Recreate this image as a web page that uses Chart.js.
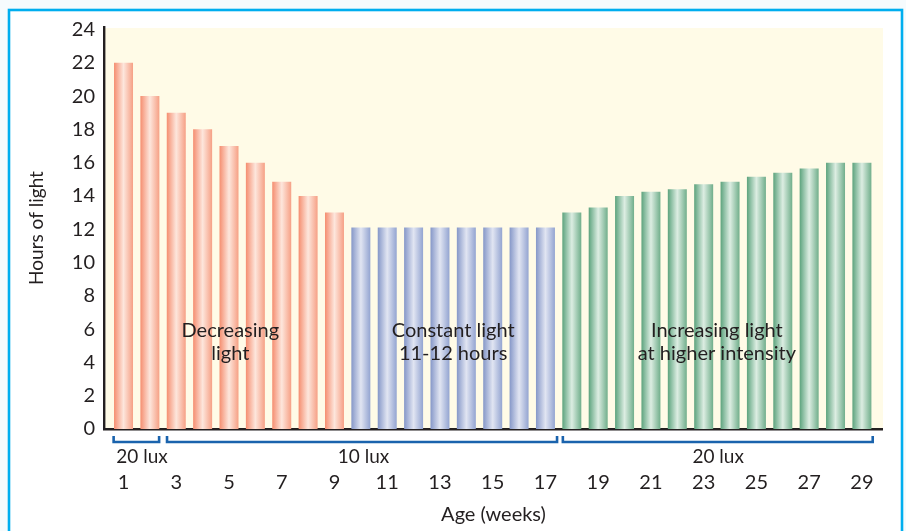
<!DOCTYPE html>
<html>
<head>
<meta charset="utf-8">
<script src="https://cdn.jsdelivr.net/npm/chart.js@4"></script>
<style>
  html, body { margin: 0; padding: 0; background: #f6fbfd; }
  #wrap { width: 906px; height: 531px; }
</style>
</head>
<body>
<div id="wrap"><canvas id="c" width="906" height="531"></canvas></div>
<script>
// Weekly hours of light through three lighting phases
const decreasingWeeks = [1, 2, 3, 4, 5, 6, 7, 8, 9];
const decreasingHours = [22, 20, 19, 18, 17, 16, 14.85, 14, 13];
const constantWeeks = [10, 11, 12, 13, 14, 15, 16, 17];
const constantHours = [12.1, 12.1, 12.1, 12.1, 12.1, 12.1, 12.1, 12.1];
const increasingWeeks = [18, 19, 20, 21, 22, 23, 24, 25, 26, 27, 28, 29];
const increasingHours = [13, 13.3, 14, 14.25, 14.4, 14.7, 14.85, 15.15, 15.4, 15.65, 16, 16];

const xTickWeeks = [1, 3, 5, 7, 9, 11, 13, 15, 17, 19, 21, 23, 25, 27, 29];
const yTickHours = [0, 2, 4, 6, 8, 10, 12, 14, 16, 18, 20, 22, 24];

// Phase captions, placed at a week and an hour value
const phaseLines = [["Decreasing", "light"], ["Constant light", "11-12 hours"], ["Increasing light", "at higher intensity"]];
const phaseAtWeek = [5.05, 13.5, 23.5];
const phaseAtHour = 5.2;

// Light intensity brackets under the axis
const luxLabels = ["20 lux", "10 lux", "20 lux"];
const luxFrom = [0.625, 2.65, 17.66];
const luxTo = [2.35, 17.44, 29.41];
const luxLabelAt = [1.7, 10.1, 23.55];

const INK = "#231f20";
const FONT = "Lato, 'Open Sans', sans-serif";
const BAR_SHARE = 0.72;

// Cylinder-like shading across each bar
function shaded(stops) {
  return (ctx) => {
    const chart = ctx.chart;
    if (!chart.chartArea || !ctx.raw) return stops[0];
    const xs = chart.scales.x;
    const cx = xs.getPixelForValue(ctx.raw.x);
    const half = (xs.getPixelForValue(1) - xs.getPixelForValue(0)) * BAR_SHARE / 2;
    const g = chart.ctx.createLinearGradient(cx - half, 0, cx + half, 0);
    g.addColorStop(0, stops[0]);
    g.addColorStop(0.5, stops[1]);
    g.addColorStop(1, stops[2]);
    return g;
  };
}

function points(weeks, hours) {
  return weeks.map((w, i) => ({ x: w, y: hours[i] }));
}

const framePlugin = {
  id: "frame",
  beforeDraw(chart) {
    const { ctx, chartArea: a } = chart;
    ctx.save();
    ctx.fillStyle = "#f6fbfd";
    ctx.fillRect(0, 0, chart.width, chart.height);
    ctx.fillStyle = "#ffffff";
    ctx.fillRect(9, 10, 893, 540);
    ctx.strokeStyle = "#00aeef";
    ctx.lineWidth = 2.6;
    ctx.strokeRect(9, 10, 893, 600);
    ctx.fillStyle = "#fffbe7";
    ctx.fillRect(a.left, a.top + 1, a.right - a.left, a.bottom - a.top);
    ctx.restore();
  }
};

const notesPlugin = {
  id: "notes",
  afterDatasetsDraw(chart) {
    const { ctx } = chart;
    const xs = chart.scales.x, ys = chart.scales.y;
    ctx.save();
    ctx.fillStyle = INK;
    ctx.font = "20px " + FONT;
    ctx.textAlign = "center";
    ctx.textBaseline = "middle";
    phaseLines.forEach((lines, i) => {
      const x = xs.getPixelForValue(phaseAtWeek[i]);
      const y0 = ys.getPixelForValue(phaseAtHour);
      lines.forEach((t, j) => ctx.fillText(t, x, y0 + (j - 0.5) * 23));
    });
    // lux brackets
    ctx.font = "19px " + FONT;
    const yLine = chart.chartArea.bottom + 13;
    ctx.strokeStyle = "#1a63ad";
    ctx.lineWidth = 2.6;
    ctx.lineCap = "butt";
    luxFrom.forEach((from, i) => {
      const x1 = xs.getPixelForValue(from), x2 = xs.getPixelForValue(luxTo[i]);
      ctx.beginPath();
      ctx.moveTo(x1, yLine - 6);
      ctx.lineTo(x1, yLine);
      ctx.lineTo(x2, yLine);
      ctx.lineTo(x2, yLine - 6);
      ctx.stroke();
      ctx.fillText(luxLabels[i], xs.getPixelForValue(luxLabelAt[i]), yLine + 14.5);
    });
    ctx.restore();
  }
};

new Chart(document.getElementById("c"), {
  type: "bar",
  data: {
    datasets: [
      { label: "Decreasing light", data: points(decreasingWeeks, decreasingHours),
        backgroundColor: shaded(["#f58e70", "#fde6dc", "#f6a085"]) },
      { label: "Constant light", data: points(constantWeeks, constantHours),
        backgroundColor: shaded(["#8597c8", "#e1e5f2", "#93a4d1"]) },
      { label: "Increasing light", data: points(increasingWeeks, increasingHours),
        backgroundColor: shaded(["#5ca37d", "#dcede2", "#70ae8b"]) }
    ]
  },
  options: {
    responsive: false,
    animation: false,
    events: [],
    grouped: false,
    barPercentage: BAR_SHARE,
    categoryPercentage: 1,
    layout: { padding: { left: 10, top: 27, right: 23, bottom: 0 } },
    plugins: { legend: { display: false }, tooltip: { enabled: false } },
    scales: {
      x: {
        type: "linear",
        offset: false,
        min: 0.26,
        max: 29.8,
        afterBuildTicks: (s) => { s.ticks = xTickWeeks.map(v => ({ value: v })); },
        afterFit: (s) => { s.height = 102; s.paddingLeft = 0; s.paddingRight = 0; },
        grid: { display: true, color: "rgba(0,0,0,0)", drawOnChartArea: false, drawTicks: false, lineWidth: 0, offset: false },
        border: { display: true, color: INK, width: 2.4 },
        ticks: { autoSkip: false, maxRotation: 0, padding: 42, color: INK,
                 font: { family: FONT, size: 20 }, callback: (v) => String(v) },
        title: { display: true, text: "Age (weeks)", color: INK,
                 font: { family: FONT, size: 20 }, padding: { top: 0, bottom: 4 } }
      },
      y: {
        min: 0,
        max: 24.15,
        afterBuildTicks: (s) => { s.ticks = yTickHours.map(v => ({ value: v })); },
        afterFit: (s) => { s.width = 94; s.paddingTop = 0; s.paddingBottom = 0; },
        grid: { display: true, color: "rgba(0,0,0,0)", drawOnChartArea: false, drawTicks: false, lineWidth: 0 },
        border: { display: true, color: INK, width: 2.4 },
        ticks: { padding: 9, color: INK, font: { family: FONT, size: 20 } },
        title: { display: true, text: "Hours of light", color: INK,
                 font: { family: FONT, size: 19 }, padding: { top: 15, bottom: 0 } }
      }
    }
  },
  plugins: [framePlugin, notesPlugin]
});
</script>
</body>
</html>
